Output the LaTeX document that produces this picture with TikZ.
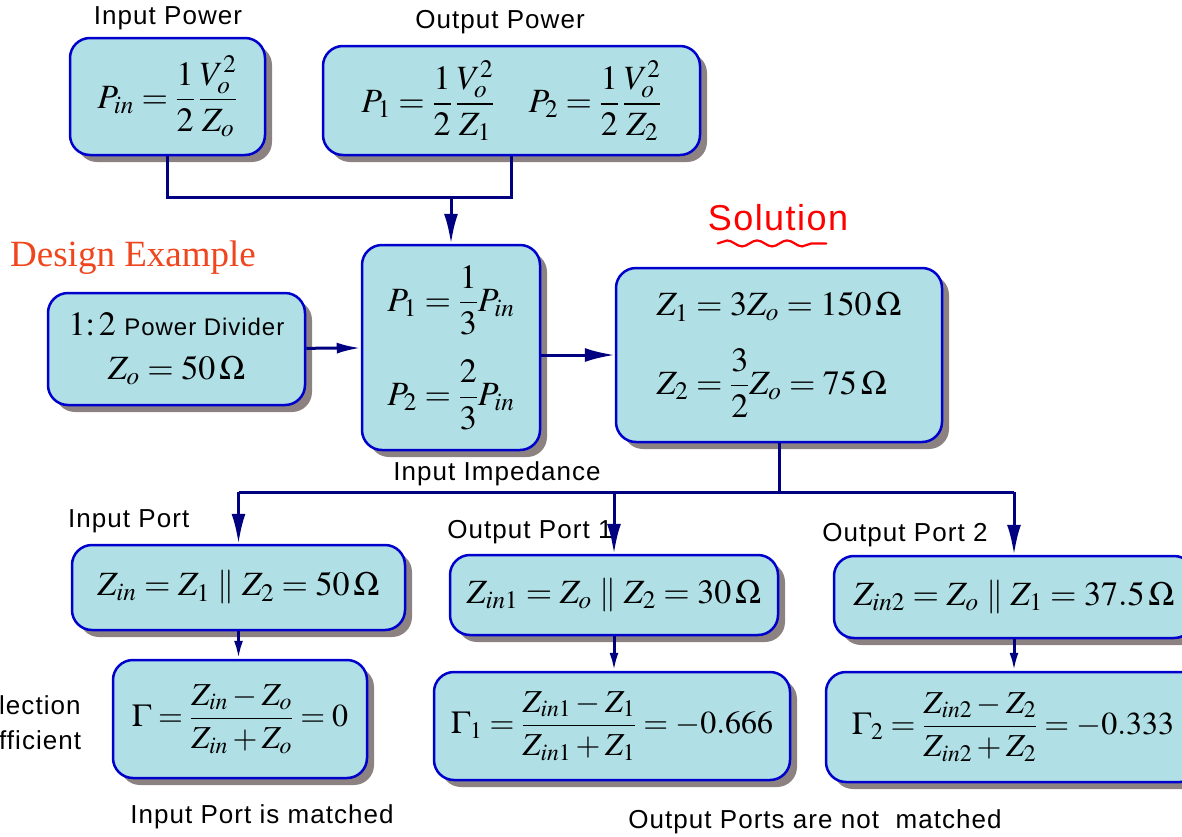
\documentclass[tikz,border=0pt]{standalone}
\usepackage{amsmath}
\usepackage{mathptmx}
\usepackage[no-math]{fontspec}
\setmainfont{Liberation Serif}
\newfontfamily\lblfont{Liberation Sans}[LetterSpace=4]
\usetikzlibrary{arrows.meta, positioning, shadows, decorations.pathmorphing}
\definecolor{boxfill}{RGB}{176,224,230}
\definecolor{boxline}{RGB}{0,0,204}
\definecolor{linkblue}{RGB}{0,0,128}
\definecolor{shade}{RGB}{140,130,130}
\definecolor{titlered}{RGB}{240,70,30}

\begin{document}
\begin{tikzpicture}[x=1pt, y=-1pt,
    box/.style={draw=boxline, line width=2.5pt, fill=boxfill, rounded corners=20pt,
      drop shadow={shadow xshift=7pt, shadow yshift=-7pt, fill=shade, opacity=1},
      inner sep=0pt, align=center, font=\fontsize{34}{40}\selectfont},
    gambox/.style={box, font=\fontsize{32}{38}\selectfont},
    link/.style={draw=linkblue, line width=3pt},
    tip/.style={link, -{Latex[length=30pt, width=14pt]}},
    smalltip/.style={link, -{Latex[length=18pt, width=9pt]}},
    lbl/.style={font=\lblfont\fontsize{26}{30}\selectfont, inner sep=0pt}]
    \useasboundingbox (0,0) rectangle (1182,836);
    \clip (0,0) rectangle (1182,836);

    % power boxes
    \node[box, minimum width=195pt, minimum height=117pt] (pin) at (167.5,96.5) {$P_{in}=\dfrac{1}{2}\,\dfrac{V_o^{2}}{Z_o}$};
    \node[box, minimum width=377pt, minimum height=109pt] (pout) at (511.5,100.5) {$P_1=\dfrac{1}{2}\,\dfrac{V_o^{2}}{Z_1}\quad P_2=\dfrac{1}{2}\,\dfrac{V_o^{2}}{Z_2}$};
    \node[lbl] (pinlbl) at (168,18) {Input Power};
    \node[lbl] (poutlbl) at (500,22) {Output Power};

    % design row
    \node[anchor=west, inner sep=0pt, text=titlered, font=\fontsize{37}{42}\selectfont] (title) at (10,258) {Design Example};
    \node[box, minimum width=257pt, minimum height=112pt] (div) at (176.5,349) {$1{:}\,2$ {\lblfont\fontsize{24}{28}\selectfont Power Divider}\\[4pt] $Z_o=50\,\Omega$};
    \node[box, minimum width=178pt, minimum height=205pt] (pp) at (451,347.5) {$P_1=\dfrac{1}{3}P_{in}$\\[24pt]$P_2=\dfrac{2}{3}P_{in}$};
    \node[box, minimum width=326pt, minimum height=174pt, align=left] (zz) at (779,355) {$Z_1=3Z_o=150\,\Omega$\\[26pt]$Z_2=\dfrac{3}{2}Z_o=75\,\Omega$};
    \node[lbl, text=red, font=\lblfont\fontsize{36}{40}\selectfont] (sol) at (778,218) {Solution};
    \draw[red, line width=2.2pt, line cap=round, decorate, decoration={snake, amplitude=3pt, segment length=30pt}] ([xshift=10pt, yshift=-12pt]sol.south west) -- ([xshift=-22pt, yshift=-12pt]sol.south east);

    % ports
    \node[lbl] (implbl) at (497,474) {Input Impedance};
    \node[box, minimum width=333pt, minimum height=85pt] (zin) at (238.5,587.5) {$Z_{in}=Z_1\parallel Z_2=50\,\Omega$};
    \node[gambox, minimum width=254pt, minimum height=118pt] (gam) at (240,719) {$\Gamma=\dfrac{Z_{in}-Z_o}{Z_{in}+Z_o}=0$};
    \node[box, minimum width=328pt, minimum height=80pt] (zin1) at (614,595) {$Z_{in1}=Z_o\parallel Z_2=30\,\Omega$};
    \node[gambox, minimum width=356pt, minimum height=108pt] (gam1) at (612,726) {$\Gamma_1=\dfrac{Z_{in1}-Z_1}{Z_{in1}+Z_1}=-0.666$};
    \node[box, minimum width=360pt, minimum height=82pt] (zin2) at (1014,597) {$Z_{in2}=Z_o\parallel Z_1=37.5\,\Omega$};
    \node[gambox, minimum width=374pt, minimum height=110pt] (gam2) at (1013,727) {$\Gamma_2=\dfrac{Z_{in2}-Z_2}{Z_{in2}+Z_2}=-0.333$};
    \node[lbl, anchor=west] (inport) at (68,521) {Input Port};
    \node[lbl] (outport1) at (530,532) {Output Port 1};
    \node[lbl] (outport2) at (905,535) {Output Port 2};
    \node[lbl, anchor=west] (refl1) at (-1,705) {lection};
    \node[lbl, anchor=west] (refl2) at (-1,740) {fficient};
    \node[lbl] (matched) at (262,817) {Input Port is matched};
    \node[lbl] (notmatched) at (815,822) {Output Ports are not\ \ matched};

    % connectors
    \coordinate (join) at (451,197);
    \coordinate (split) at (779,492);
    \draw[link] (pin.south) -- (pin.south |- join) -- (pout.south |- join) -- (pout.south);
    \draw[tip] (join) -- (pp.north);
    \draw[tip, -{Latex[length=24pt, width=11pt]}] (div) -- (pp);
    \draw[tip] (pp.east |- zz) -- (zz.west);
    \draw[link] (zz.south) -- (split);
    \draw[link] (zin.north |- split) -- (zin2.north |- split);
    \draw[tip] (zin.north |- split) -- (zin.north);
    \draw[tip] (zin1.north |- split) -- (zin1.north);
    \draw[tip] (zin2.north |- split) -- (zin2.north);
    \draw[smalltip] (zin.south) -- (zin.south |- gam.north);
    \draw[smalltip] (zin1.south) -- (zin1.south |- gam1.north);
    \draw[smalltip] (zin2.south) -- (zin2.south |- gam2.north);
\end{tikzpicture}
\end{document}
